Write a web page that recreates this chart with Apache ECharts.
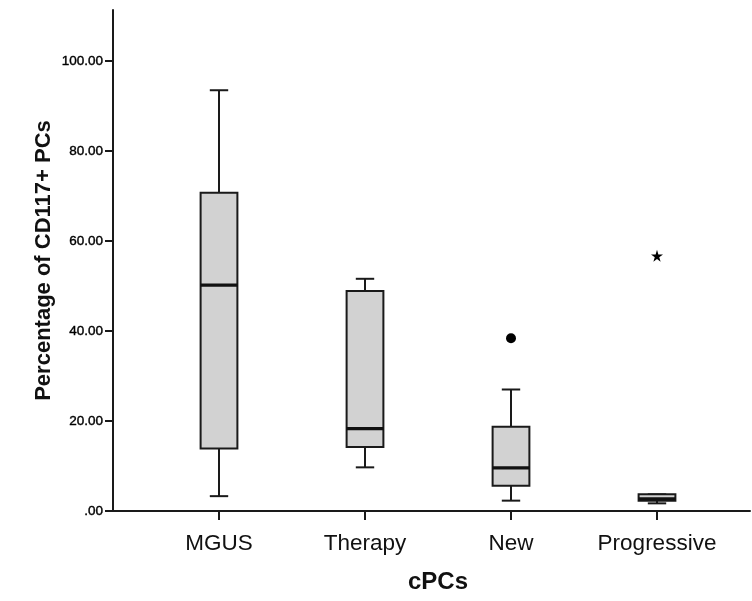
<!DOCTYPE html>
<html>
<head>
<meta charset="utf-8">
<script src="https://cdn.jsdelivr.net/npm/echarts@6/dist/echarts.min.js"></script>
<style>
html,body{margin:0;padding:0;background:#fff;}
#c{width:752px;height:601px;}
</style>
</head>
<body>
<div id="c"></div>
<script>
const categories = ['MGUS', 'Therapy', 'New', 'Progressive'];
const lowerWhisker = [3.3, 9.7, 2.3, 1.7];
const q1 = [13.9, 14.2, 5.6, 2.3];
const median = [50.2, 18.3, 9.6, 2.7];
const q3 = [70.7, 48.9, 18.7, 3.7];
const upperWhisker = [93.5, 51.6, 27.0, 3.7];
const outliers = [['New', 38.4]];
const extremes = [['Progressive', 56.7]];
const yTicks = [0, 20, 40, 60, 80, 100];

const yMax = 111.33;
const FONT = '"Liberation Sans", Arial, sans-serif';

const boxData = categories.map((c, i) => [i, lowerWhisker[i], q1[i], median[i], q3[i], upperWhisker[i]]);

const chart = echarts.init(document.getElementById('c'), null, {renderer: 'canvas'});

function renderBox(params, api) {
  const x = api.value(0);
  const pLo = api.coord([x, api.value(1)]);
  const pQ1 = api.coord([x, api.value(2)]);
  const pMed = api.coord([x, api.value(3)]);
  const pQ3 = api.coord([x, api.value(4)]);
  const pHi = api.coord([x, api.value(5)]);
  const band = api.size([1, 0])[0];
  const bw = band * 0.252;
  const half = bw / 2;
  const cap = bw / 4;
  const cx = pMed[0];
  const ls = {stroke: '#1a1a1a', lineWidth: 2, fill: null};
  return {
    type: 'group',
    children: [
      {type: 'line', shape: {x1: cx, y1: pLo[1], x2: cx, y2: pQ1[1]}, style: ls},
      {type: 'line', shape: {x1: cx, y1: pQ3[1], x2: cx, y2: pHi[1]}, style: ls},
      {type: 'line', shape: {x1: cx - cap, y1: pLo[1], x2: cx + cap, y2: pLo[1]}, style: ls},
      {type: 'line', shape: {x1: cx - cap, y1: pHi[1], x2: cx + cap, y2: pHi[1]}, style: ls},
      {type: 'rect', shape: {x: cx - half, y: pQ3[1], width: bw, height: pQ1[1] - pQ3[1]},
        style: {fill: '#d2d2d2', stroke: '#1a1a1a', lineWidth: 2}},
      {type: 'line', shape: {x1: cx - half, y1: pMed[1], x2: cx + half, y2: pMed[1]},
        style: {stroke: '#111', lineWidth: 3.2}}
    ]
  };
}

const option = {
  backgroundColor: '#ffffff',
  animation: false,
  grid: [
    {left: 146, right: 22, top: 10, bottom: 90},
    {left: 113, right: 2, top: 10, bottom: 90},
    {left: 113, right: 2, top: 61, bottom: 90}
  ],
  xAxis: [
    {
      type: 'category', gridIndex: 0, data: categories, boundaryGap: true,
      axisLine: {show: false},
      axisTick: {show: true, interval: 0, alignWithLabel: true, length: 9, lineStyle: {color: '#1a1a1a', width: 2}},
      axisLabel: {interval: 0, hideOverlap: false, color: '#111', fontSize: 22.5, fontFamily: FONT, margin: 21},
      name: 'cPCs', nameLocation: 'middle', nameGap: 59,
      nameTextStyle: {color: '#111', fontSize: 24, fontWeight: 'bold', fontFamily: FONT}
    },
    {
      type: 'value', gridIndex: 1, min: 0, max: 1,
      axisLine: {show: true, lineStyle: {color: '#1a1a1a', width: 2}},
      axisTick: {show: false}, axisLabel: {show: false}, splitLine: {show: false}
    },
    {
      type: 'value', gridIndex: 2, min: 0, max: 1, show: false
    }
  ],
  yAxis: [
    {
      type: 'value', gridIndex: 0, min: 0, max: yMax, show: false
    },
    {
      type: 'value', gridIndex: 1, min: 0, max: yMax,
      axisLine: {show: true, lineStyle: {color: '#1a1a1a', width: 2}},
      axisTick: {show: false}, axisLabel: {show: false}, splitLine: {show: false},
      name: 'Percentage of CD117+ PCs', nameLocation: 'middle', nameGap: 58,
      nameTextStyle: {color: '#111', fontSize: 22, fontWeight: 'bold', fontFamily: FONT}
    },
    {
      type: 'value', gridIndex: 2, min: yTicks[0], max: yTicks[yTicks.length - 1], interval: 20,
      axisLine: {show: false},
      axisTick: {show: true, length: 8, lineStyle: {color: '#1a1a1a', width: 2}},
      axisLabel: {color: '#000', fontSize: 13.5, fontFamily: FONT, margin: 10,
        textBorderColor: '#000', textBorderWidth: 0.4,
        formatter: v => v === 0 ? '.00' : v.toFixed(2)},
      splitLine: {show: false}
    }
  ],
  series: [
    {
      type: 'custom', xAxisIndex: 0, yAxisIndex: 0,
      renderItem: renderBox,
      encode: {x: 0, y: [1, 2, 3, 4, 5]},
      data: boxData, z: 3
    },
    {
      type: 'scatter', xAxisIndex: 0, yAxisIndex: 0,
      symbol: 'circle', symbolSize: 10,
      itemStyle: {color: '#000', opacity: 1},
      data: outliers, z: 4
    },
    {
      type: 'scatter', xAxisIndex: 0, yAxisIndex: 0,
      symbol: 'path://M50,0 L61,35 L98,35 L68,57 L79,91 L50,70 L21,91 L32,57 L2,35 L39,35 Z',
      symbolSize: 12,
      itemStyle: {color: '#000', opacity: 1},
      data: extremes, z: 4
    }
  ]
};
chart.setOption(option);
</script>
</body>
</html>
